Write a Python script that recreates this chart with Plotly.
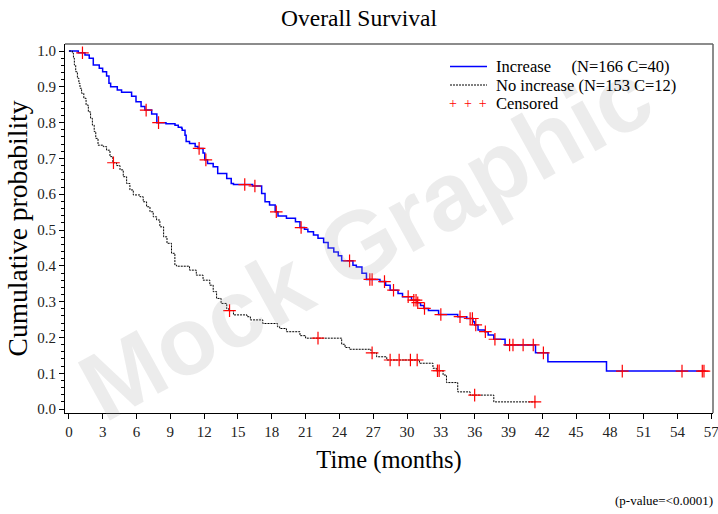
import plotly.graph_objects as go
import numpy as np

# ---------------- data ----------------
# Increase group: step times and survival after each step
inc_t = [0, 0.83, 1.42, 1.80, 2.16, 2.69, 2.99, 3.34, 3.55, 3.70, 4.29, 4.67, 5.56, 5.95,
         6.40, 6.74, 7.34, 7.80, 8.61, 9.41, 9.70, 10.0, 10.05, 10.3, 10.4, 10.7, 11.2,
         11.45, 11.9, 12.05, 12.3, 12.8, 13.2, 14.0, 14.4, 14.6, 16.3, 17.1, 17.4, 17.8,
         18.3, 18.55, 19.3, 20.1, 20.5, 20.9, 21.2, 21.7, 22.1, 22.6, 23.0, 23.5, 23.9,
         24.2, 25.2, 25.5, 26.0, 26.4, 27.6, 28.1, 28.5, 29.2, 29.6, 30.4, 30.9, 31.2,
         31.5, 31.9, 32.8, 34.5, 35.3, 35.85, 36.0, 36.3, 36.9, 37.2, 37.7, 38.7, 41.4,
         42.5, 47.7]
inc_s = [1.0, 0.995, 0.989, 0.980, 0.961, 0.952, 0.942, 0.930, 0.910, 0.900, 0.891, 0.885,
         0.874, 0.858, 0.845, 0.835, 0.824, 0.800, 0.797, 0.793, 0.787, 0.784, 0.779, 0.765,
         0.747, 0.742, 0.733, 0.728, 0.715, 0.696, 0.686, 0.677, 0.658, 0.644, 0.630, 0.627,
         0.623, 0.602, 0.579, 0.570, 0.551, 0.539, 0.533, 0.523, 0.507, 0.502, 0.495, 0.486,
         0.477, 0.465, 0.450, 0.439, 0.428, 0.414, 0.402, 0.397, 0.379, 0.362, 0.356, 0.346,
         0.332, 0.323, 0.314, 0.304, 0.297, 0.289, 0.281, 0.275, 0.264, 0.258, 0.253, 0.244,
         0.235, 0.221, 0.216, 0.207, 0.195, 0.179, 0.157, 0.132, 0.106]
inc_end = 56.5
inc_cens = [1.2, 6.85, 7.95, 11.55, 12.15, 15.6, 16.5, 18.4, 20.6, 24.9, 26.7, 26.9, 28.0,
            28.8, 30.1, 30.6, 30.8, 30.95, 31.55, 33.0, 34.7, 35.6, 35.8, 36.1, 36.95, 37.8,
            39.1, 39.4, 40.3, 41.2, 42.1, 49.1, 54.4, 56.2, 56.35]

# No increase group
noinc_t = [0, 0.30, 0.40, 0.48, 0.60, 0.75, 0.88, 0.98, 1.12, 1.32, 1.52, 1.72, 1.92, 2.08,
           2.24, 2.38, 2.58, 3.05, 3.34, 3.64, 3.90, 4.23, 4.53, 4.82, 5.12, 5.41, 5.71,
           6.30, 6.59, 6.89, 7.19, 7.48, 7.78, 8.07, 8.40, 8.70, 9.10, 9.40, 9.55, 10.7,
           11.3, 11.9, 12.5, 12.8, 13.1, 13.5, 14.0, 14.2, 14.6, 15.8, 16.1, 17.2, 18.5,
           18.7, 19.3, 20.5, 21.0, 24.2, 24.5, 24.9, 26.8, 27.3, 28.2, 31.1, 32.3, 32.6,
           33.2, 33.5, 34.5, 35.6, 37.7]
noinc_s = [1.0, 0.994, 0.980, 0.961, 0.942, 0.924, 0.910, 0.896, 0.882, 0.868, 0.849, 0.830,
           0.812, 0.793, 0.775, 0.756, 0.737, 0.733, 0.723, 0.705, 0.688, 0.680, 0.668, 0.649,
           0.630, 0.612, 0.598, 0.593, 0.579, 0.565, 0.551, 0.537, 0.528, 0.509, 0.481, 0.463,
           0.435, 0.402, 0.399, 0.388, 0.374, 0.360, 0.346, 0.328, 0.309, 0.295, 0.280, 0.275,
           0.263, 0.258, 0.249, 0.239, 0.230, 0.225, 0.216, 0.205, 0.198, 0.181, 0.172, 0.167,
           0.157, 0.146, 0.137, 0.128, 0.114, 0.107, 0.095, 0.074, 0.048, 0.039, 0.020]
noinc_end = 41.4
noinc_cens = [3.95, 14.25, 22.1, 26.9, 28.5, 29.3, 30.3, 30.9, 32.7, 32.85, 36.0, 41.35]

x_ticks = list(range(0, 58, 3))
y_ticks = [round(v * 0.1, 1) for v in range(0, 11)]

legend_labels = ["Increase\u00a0\u00a0\u00a0\u00a0 (N=166 C=40)",
                 "No increase (N=153 C=12)",
                 "Censored"]


def surv_at(times, vals, t):
    idx = np.searchsorted(np.array(times), t, side="right") - 1
    return vals[idx]


SERIF = "Liberation Serif, Times New Roman, serif"

fig = go.Figure()

# curves
fig.add_trace(go.Scatter(x=inc_t + [inc_end], y=inc_s + [inc_s[-1]], mode="lines",
                         line=dict(color="#0000FF", width=1.5, shape="hv"),
                         showlegend=False, hoverinfo="skip"))
fig.add_trace(go.Scatter(x=noinc_t + [noinc_end], y=noinc_s + [noinc_s[-1]], mode="lines",
                         line=dict(color="#000000", width=1, shape="hv", dash="2px,1px"),
                         showlegend=False, hoverinfo="skip"))
# censored markers
for cens, tt, ss in [(inc_cens, inc_t, inc_s), (noinc_cens, noinc_t, noinc_s)]:
    fig.add_trace(go.Scatter(x=cens, y=[surv_at(tt, ss, c) for c in cens], mode="markers",
                             marker=dict(symbol="cross-thin", size=9,
                                         line=dict(color="#FF0000", width=1.2)),
                             showlegend=False, hoverinfo="skip"))

# plot area in pixels: x 65..713, y 44..413
L, R, T, B = 65, 5, 44, 101
W, H = 718, 514
pw, ph = W - L - R, H - T - B


def px(xp):
    return (xp - L) / pw


def py(yp):
    return (H - B - yp) / ph


annotations = []
shapes = []

# watermark
annotations.append(dict(text="<b>Mock Graphic</b>", x=px(365), y=py(240), xref="paper", yref="paper",
                        showarrow=False, textangle=-29, xanchor="center", yanchor="middle",
                        font=dict(family="Liberation Sans, Arial, sans-serif", size=96,
                                  color="rgba(170,170,170,0.22)")))

# manual legend
rows = [66.5, 85, 103.5]
shapes.append(dict(type="line", xref="paper", yref="paper", x0=px(450), x1=px(487),
                   y0=py(rows[0]), y1=py(rows[0]), line=dict(color="#0000FF", width=1.5)))
shapes.append(dict(type="line", xref="paper", yref="paper", x0=px(450), x1=px(487),
                   y0=py(rows[1]), y1=py(rows[1]), line=dict(color="#000000", width=1, dash="2px,1px")))
annotations.append(dict(text="+\u00a0\u00a0+\u00a0\u00a0+", x=px(468), y=py(rows[2]), xref="paper", yref="paper",
                        showarrow=False, xanchor="center", yanchor="middle",
                        font=dict(family=SERIF, size=14, color="#FF0000")))
for r, lab in zip(rows, legend_labels):
    annotations.append(dict(text=lab, x=px(494), y=py(r), xref="paper", yref="paper",
                            showarrow=False, xanchor="left", yanchor="middle",
                            font=dict(family=SERIF, size=16.5, color="#000000")))

# p-value
annotations.append(dict(text="(p-value=<0.0001)", x=px(715), y=py(500), xref="paper", yref="paper",
                        showarrow=False, xanchor="right", yanchor="middle",
                        font=dict(family=SERIF, size=13, color="#000000")))

# top/right frame
shapes.append(dict(type="line", xref="paper", yref="paper", x0=0, x1=1, y0=1, y1=1,
                   line=dict(color="#666666", width=1.5)))
shapes.append(dict(type="line", xref="paper", yref="paper", x0=1, x1=1, y0=0, y1=1,
                   line=dict(color="#666666", width=1.5)))

fig.update_layout(
    width=W, height=H,
    margin=dict(l=L, r=R, t=T, b=B, autoexpand=False),
    paper_bgcolor="white", plot_bgcolor="white",
    title=dict(text="Overall Survival", x=0.5, xref="container", y=1 - 18 / H, yref="container",
               xanchor="center", yanchor="middle",
               font=dict(family=SERIF, size=23.5, color="#000000")),
    xaxis=dict(range=[-0.35, 57.15], tickvals=x_ticks, ticktext=[str(v) for v in x_ticks],
               automargin=False,
               showgrid=False, zeroline=False, showline=True, linecolor="#000000", linewidth=1,
               ticks="outside", ticklen=5, tickcolor="#000000", ticklabeloverflow="allow",
               tickfont=dict(family=SERIF, size=15, color="#222222"),
               title=dict(text="Time (months)", standoff=11,
                          font=dict(family=SERIF, size=24.5, color="#000000"))),
    yaxis=dict(range=[-0.011, 1.0196], tickvals=y_ticks, ticktext=[f"{v:.1f}" for v in y_ticks],
               automargin=False,
               showgrid=False, zeroline=False, showline=True, linecolor="#000000", linewidth=1,
               ticks="outside", ticklen=5, tickcolor="#000000", ticklabeloverflow="allow",
               minor=dict(dtick=0.02, tick0=0, ticks="outside", ticklen=3, tickcolor="#000000"),
               tickfont=dict(family=SERIF, size=15, color="#222222"),
               title=dict(text="Cumulative probability", standoff=1,
                          font=dict(family=SERIF, size=27.5, color="#000000"))),
    annotations=annotations,
    shapes=shapes,
)

fig.write_html("out.html")
